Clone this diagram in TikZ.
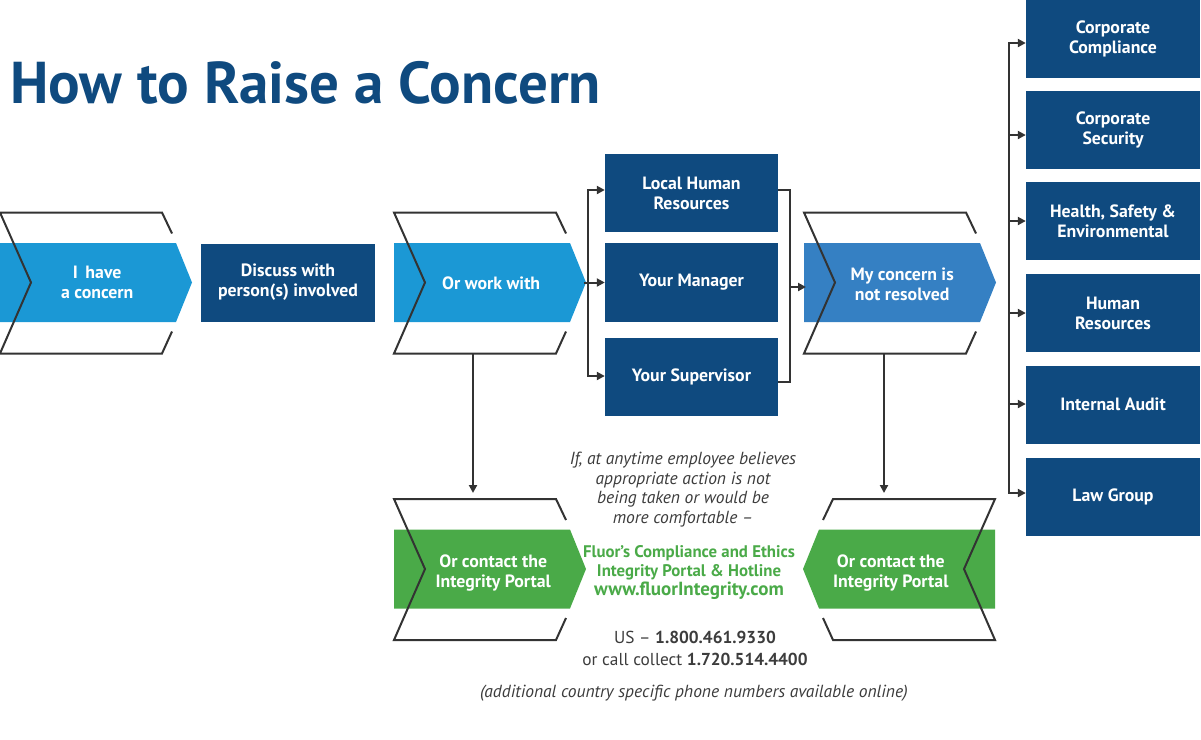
\documentclass[tikz,border=0pt]{standalone}
\usepackage{fontspec}
\setmainfont{PT Sans}
\usetikzlibrary{arrows.meta}
\definecolor{navy}{RGB}{15,74,127}
\definecolor{lblue}{RGB}{27,152,213}
\definecolor{mblue}{RGB}{53,128,195}
\definecolor{fgreen}{RGB}{74,170,72}
\definecolor{lgray}{RGB}{51,51,51}
\definecolor{tgray}{RGB}{60,60,60}
\newcommand\chevshape[4]{%
  \fill[#4] (#1,{#2-39.5}) -- ({#1+#3*176},{#2-39.5}) -- ({#1+#3*192},#2) -- ({#1+#3*176},{#2+39.5}) -- (#1,{#2+39.5}) -- cycle;
  \draw[outl] ({#1+#3*172},{#2-49}) -- ({#1+#3*162},{#2-70}) -- (#1,{#2-70}) -- ({#1+#3*31},#2) -- (#1,{#2+71}) -- ({#1+#3*162},{#2+71}) -- ({#1+#3*172},{#2+49});
}
\begin{document}
\begin{tikzpicture}[x=1pt,y=-1pt,
  outl/.style={draw=lgray,line width=2pt},
  conn/.style={draw=lgray,line width=2pt},
  arr/.style={conn,-{Triangle[length=8pt,width=8pt]}},
  boxtxt/.style={text=white,font=\fontsize{17.8}{20}\selectfont\bfseries,align=center,inner sep=0pt},
  navybox/.style={boxtxt,fill=navy,minimum width=174pt,minimum height=78pt},
  chevtxt/.style={boxtxt,minimum width=192pt,minimum height=79pt},
  note/.style={align=center,inner sep=0pt,text=tgray}
]
\useasboundingbox (0,0) rectangle (1201,739);

% title
\node[anchor=base west,inner sep=0pt,text=navy,font=\fontsize{59}{60}\selectfont\bfseries] (title) at (10,103) {How to Raise a Concern};

% chevrons
\chevshape{0}{282.5}{1}{lblue}
\chevshape{394}{282.5}{1}{lblue}
\chevshape{804}{282.5}{1}{mblue}
\chevshape{394}{569}{1}{fgreen}
\chevshape{995}{569}{-1}{fgreen}

\node[chevtxt,anchor=west] (c1) at (1,282.5) {I\, have\\a concern};
\node[chevtxt,anchor=west] (c3) at (395,283.5) {Or work with};
\node[chevtxt,anchor=west] (c4) at (806,284) {My concern is\\not resolved};
\node[chevtxt,anchor=west] (g1) at (397,573) {Or contact the\\Integrity Portal};
\node[chevtxt,anchor=east] (g2) at (987,573) {Or contact the\\Integrity Portal};

% boxes
\node[navybox] (disc) at (288,282.5) {Discuss with\\person(s) involved};
\node[navybox,minimum width=173pt] (lhr) at (691.5,193) {Local Human\\Resources};
\node[navybox,minimum width=173pt,minimum height=79pt] (mgr) at (691.5,282.5) {Your Manager};
\node[navybox,minimum width=173pt] (sup) at (691.5,377) {Your Supervisor};

\node[navybox] (cc) at (1113,39) {Corporate\\Compliance};
\node[navybox] (cs) at (1113,130) {Corporate\\Security};
\node[navybox] (hse) at (1113,221) {Health, Safety \&\\Environmental};
\node[navybox] (hr) at (1113,313) {Human\\Resources};
\node[navybox] (ia) at (1113,404.5) {Internal Audit};
\node[navybox] (lg) at (1113,496.5) {Law Group};

% left bus of the middle group
\coordinate (tip3) at (584,282.5);
\coordinate (lbt) at (588,190);
\coordinate (lbm) at (588,282.5);
\coordinate (lbb) at (588,376);
\draw[conn] (tip3) -- (lbm);
\draw[conn,line cap=butt] ([yshift=1pt]lbt) -- ([yshift=-1pt]lbb);
\draw[arr] (lbt) -- (lbt -| lhr.west);
\draw[arr] (lbm) -- (lbm -| mgr.west);
\draw[arr] (lbb) -- (lbb -| sup.west);

% right bus of the middle group
\coordinate (rbt) at (790,190);
\coordinate (rbb) at (790,382);
\coordinate (rbm) at (790,287);
\draw[conn] (rbt -| lhr.east) -- (rbt) -- (rbb) -- (rbb -| sup.east);
\draw[arr] (rbm) -- (rbm -| c4.west);

% right bus to departments
\coordinate (r1) at (1009,43);
\coordinate (r2) at (1009,135);
\coordinate (r3) at (1009,221);
\coordinate (r4) at (1009,313);
\coordinate (r5) at (1009,404);
\coordinate (r6) at (1009,493);
\draw[conn] ([yshift=1pt]r1) -- ([yshift=-1pt]r6);
\draw[arr] (r1) -- (r1 -| cc.west);
\draw[arr] (r2) -- (r2 -| cs.west);
\draw[arr] (r3) -- (r3 -| hse.west);
\draw[arr] (r4) -- (r4 -| hr.west);
\draw[arr] (r5) -- (r5 -| ia.west);
\draw[arr] (r6) -- (r6 -| lg.west);

% vertical arrows down to the green chevrons
\coordinate (v1) at (473,353.5);
\coordinate (v1e) at (473,493);
\coordinate (v2) at (884,353.5);
\coordinate (v2e) at (884,493);
\draw[arr] (v1) -- (v1e);
\draw[arr] (v2) -- (v2e);

% centre texts
\node[note,font=\fontsize{17.5}{19.5}\selectfont\itshape] (ifat) at (683,489.5) {If, at anytime employee believes\\appropriate action is not\\being taken or would be\\more comfortable --};
\node[note,text=fgreen,font=\fontsize{16.8}{19}\selectfont\bfseries] (portal) at (689,573) {Fluor’s Compliance and Ethics\\Integrity Portal \& Hotline\\{\fontsize{19}{19}\selectfont www.fluorIntegrity.com}};
\node[note,font=\fontsize{17.3}{22}\selectfont] (phone) at (695,648.5) {US -- \textbf{1.800.461.9330}\\or call collect \textbf{1.720.514.4400}};
\node[note,font=\fontsize{17.5}{19}\selectfont\itshape] (addl) at (694,693.5) {(additional country specific phone numbers available online)};
\end{tikzpicture}
\end{document}
